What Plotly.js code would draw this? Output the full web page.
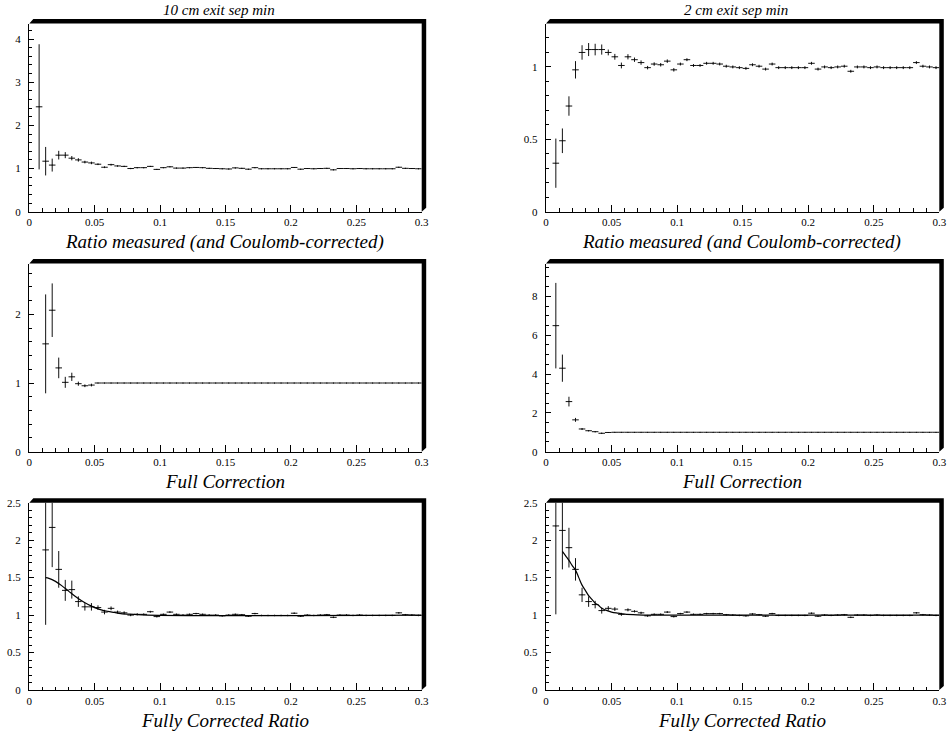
<!DOCTYPE html>
<html>
<head>
<meta charset="utf-8">
<script src="https://cdn.plot.ly/plotly-3.0.1.min.js"></script>
<style>html,body{margin:0;padding:0;background:#fff;}#chart{width:947px;height:734px;}</style>
</head>
<body>
<div id="chart"></div>
<script>
// Bin centres (bin width 0.005 from 0 to 0.3)
const binCenters = [0.0025,0.0075,0.0125,0.0175,0.0225,0.0275,0.0325,0.0375,0.0425,0.0475,
  0.0525,0.0575,0.0625,0.0675,0.0725,0.0775,0.0825,0.0875,0.0925,0.0975,
  0.1025,0.1075,0.1125,0.1175,0.1225,0.1275,0.1325,0.1375,0.1425,0.1475,
  0.1525,0.1575,0.1625,0.1675,0.1725,0.1775,0.1825,0.1875,0.1925,0.1975,
  0.2025,0.2075,0.2125,0.2175,0.2225,0.2275,0.2325,0.2375,0.2425,0.2475,
  0.2525,0.2575,0.2625,0.2675,0.2725,0.2775,0.2825,0.2875,0.2925,0.2975];

// Top left: 10 cm, ratio measured (and Coulomb-corrected)
const ratio10 = [null,2.43,1.17,1.08,1.31,1.31,1.24,1.20,1.15,1.13,
  1.10,1.03,1.09,1.06,1.05,1.00,1.02,1.02,1.05,0.98,
  1.02,1.04,1.01,1.01,1.02,1.025,1.02,1.005,1.0,0.995,
  0.99,1.015,1.005,0.985,1.02,0.995,0.995,0.995,0.995,0.995,
  1.025,0.985,1.0,0.995,1.0,1.005,0.97,1.0,1.0,0.995,
  1.0,0.995,0.995,0.995,0.995,0.995,1.03,1.005,1.0,0.995];
const ratio10Err = [null,1.45,0.33,0.15,0.10,0.07,0.05,0.04,0.03,0.03,
  0.02,0.02,0.02,0.015,0.015,0.015,0.012,0.012,0.012,0.012,
  0.01,0.01,0.01,0.01,0.01,0.01,0.01,0.01,0.01,0.01,
  0.01,0.01,0.01,0.01,0.01,0.01,0.01,0.01,0.01,0.01,
  0.01,0.01,0.01,0.01,0.01,0.01,0.01,0.01,0.01,0.01,
  0.01,0.01,0.01,0.01,0.01,0.01,0.01,0.01,0.01,0.01];

// Top right: 2 cm, ratio measured (and Coulomb-corrected)
const ratio2 = [null,0.335,0.49,0.73,0.98,1.10,1.12,1.12,1.12,1.10,
  1.07,1.01,1.07,1.05,1.03,0.995,1.02,1.015,1.04,0.98,
  1.02,1.05,1.01,1.01,1.025,1.025,1.02,1.005,1.0,0.995,
  0.99,1.015,1.005,0.985,1.02,0.995,0.995,0.995,0.995,0.995,
  1.025,0.985,1.0,0.995,1.0,1.005,0.97,1.0,1.0,0.995,
  1.0,0.995,0.995,0.995,0.995,0.995,1.03,1.005,1.0,0.995];
const ratio2Err = [null,0.17,0.085,0.067,0.06,0.05,0.045,0.04,0.035,0.02,
  0.02,0.02,0.018,0.015,0.015,0.012,0.012,0.012,0.012,0.012,
  0.01,0.01,0.01,0.01,0.01,0.01,0.01,0.01,0.01,0.01,
  0.01,0.01,0.01,0.01,0.01,0.01,0.01,0.01,0.01,0.01,
  0.01,0.01,0.01,0.01,0.01,0.01,0.01,0.01,0.01,0.01,
  0.01,0.01,0.01,0.01,0.01,0.01,0.01,0.01,0.01,0.01];

// Middle left: 10 cm, full correction
const corr10 = [null,null,1.57,2.06,1.22,1.01,1.09,0.99,0.96,0.97,
  1,1,1,1,1,1,1,1,1,1, 1,1,1,1,1,1,1,1,1,1,
  1,1,1,1,1,1,1,1,1,1, 1,1,1,1,1,1,1,1,1,1, 1,1,1,1,1,1,1,1,1,1];
const corr10Err = [null,null,0.72,0.39,0.15,0.08,0.06,0.03,0.02,0.02,
  0.004,0.004,0.004,0.004,0.004,0.004,0.004,0.004,0.004,0.004,
  0.004,0.004,0.004,0.004,0.004,0.004,0.004,0.004,0.004,0.004,
  0.004,0.004,0.004,0.004,0.004,0.004,0.004,0.004,0.004,0.004,
  0.004,0.004,0.004,0.004,0.004,0.004,0.004,0.004,0.004,0.004,
  0.004,0.004,0.004,0.004,0.004,0.004,0.004,0.004,0.004,0.004];

// Middle right: 2 cm, full correction
const corr2 = [null,6.49,4.30,2.58,1.64,1.17,1.08,1.03,0.95,0.99,
  1,1,1,1,1,1,1,1,1,1, 1,1,1,1,1,1,1,1,1,1,
  1,1,1,1,1,1,1,1,1,1, 1,1,1,1,1,1,1,1,1,1, 1,1,1,1,1,1,1,1,1,1];
const corr2Err = [null,2.2,0.7,0.25,0.10,0.05,0.03,0.03,0.03,0.02,
  0.01,0.01,0.01,0.01,0.01,0.01,0.01,0.01,0.01,0.01,
  0.01,0.01,0.01,0.01,0.01,0.01,0.01,0.01,0.01,0.01,
  0.01,0.01,0.01,0.01,0.01,0.01,0.01,0.01,0.01,0.01,
  0.01,0.01,0.01,0.01,0.01,0.01,0.01,0.01,0.01,0.01,
  0.01,0.01,0.01,0.01,0.01,0.01,0.01,0.01,0.01,0.01];

// Bottom left: 10 cm, fully corrected ratio
const full10 = [null,null,1.87,2.17,1.61,1.33,1.34,1.18,1.11,1.11,
  1.10,1.04,1.09,1.04,1.03,1.00,1.01,1.01,1.045,0.98,
  1.01,1.04,1.01,1.0,1.01,1.02,1.01,1.0,1.0,0.99,
  1.0,1.01,1.005,0.985,1.02,0.995,0.995,0.995,0.995,0.995,
  1.025,0.985,1.0,0.995,1.0,1.005,0.97,1.0,1.0,0.995,
  1.0,0.995,0.995,0.995,0.995,0.995,1.03,1.005,1.0,0.995];
const full10Err = [null,null,1.0,0.53,0.245,0.14,0.12,0.07,0.05,0.05,
  0.03,0.03,0.025,0.02,0.02,0.015,0.015,0.012,0.012,0.012,
  0.01,0.01,0.01,0.01,0.01,0.01,0.01,0.01,0.01,0.01,
  0.01,0.01,0.01,0.01,0.01,0.01,0.01,0.01,0.01,0.01,
  0.01,0.01,0.01,0.01,0.01,0.01,0.01,0.01,0.01,0.01,
  0.01,0.01,0.01,0.01,0.01,0.01,0.01,0.01,0.01,0.01];

// Bottom right: 2 cm, fully corrected ratio
const full2 = [null,2.19,2.13,1.90,1.61,1.27,1.18,1.14,1.06,1.09,
  1.08,1.01,1.07,1.05,1.03,0.99,1.01,1.01,1.04,0.98,
  1.02,1.04,1.01,1.01,1.02,1.02,1.02,1.005,1.0,0.995,
  0.99,1.015,1.005,0.985,1.02,0.995,0.995,0.995,0.995,0.995,
  1.025,0.985,1.0,0.995,1.0,1.005,0.97,1.0,1.0,0.995,
  1.0,0.995,0.995,0.995,0.995,0.995,1.03,1.005,1.0,0.995];
const full2Err = [null,1.18,0.52,0.265,0.15,0.095,0.07,0.05,0.04,0.03,
  0.025,0.02,0.02,0.015,0.015,0.012,0.012,0.012,0.012,0.012,
  0.01,0.01,0.01,0.01,0.01,0.01,0.01,0.01,0.01,0.01,
  0.01,0.01,0.01,0.01,0.01,0.01,0.01,0.01,0.01,0.01,
  0.01,0.01,0.01,0.01,0.01,0.01,0.01,0.01,0.01,0.01,
  0.01,0.01,0.01,0.01,0.01,0.01,0.01,0.01,0.01,0.01];

// Fit curves
const fit10X = [0.0125,0.015,0.02,0.025,0.03,0.035,0.04,0.045,0.05,0.055,0.06,0.065,0.07,0.08,0.09,0.3];
const fit10Y = [1.50,1.49,1.45,1.39,1.32,1.25,1.19,1.14,1.10,1.07,1.05,1.035,1.02,1.01,1.0,1.0];
const fit2X = [0.0125,0.015,0.0175,0.02,0.0225,0.025,0.0275,0.03,0.0325,0.035,0.0375,0.04,0.0425,0.045,0.05,0.055,0.06,0.07,0.08,0.3];
const fit2Y = [1.85,1.79,1.73,1.66,1.60,1.50,1.40,1.33,1.26,1.21,1.16,1.13,1.09,1.07,1.04,1.025,1.012,1.003,1.0,1.0];

const topTitles = ["10 cm exit sep min", "2 cm exit sep min"];
const rowLabels = ["Ratio measured (and Coulomb-corrected)", "Full Correction", "Fully Corrected Ratio"];

// ---- layout geometry (pixels) ----
const W = 947, H = 734;
const cols = [[29.3, 421.7], [546, 939.3]];
const rows = [[23.5, 211.7], [263.5, 451.7], [502.7, 690]];
const yRanges = [[0,4.36],[0,1.30],[0,2.74],[0,9.69],[0,2.5],[0,2.5]];
const yDticks = [1,0.5,1,2,0.5,0.5];
const yMinor = [0.2,0.1,0.2,0.5,0.1,0.1];

const panels = [
  {y: ratio10, e: ratio10Err}, {y: ratio2, e: ratio2Err},
  {y: corr10, e: corr10Err}, {y: corr2, e: corr2Err},
  {y: full10, e: full10Err}, {y: full2, e: full2Err}
];

const serifFont = "Liberation Serif";
const data = [];
const layout = {
  width: W, height: H, margin: {l:0, r:0, t:0, b:0},
  paper_bgcolor: "white", plot_bgcolor: "white",
  font: {family: serifFont, color: "black"},
  showlegend: false, shapes: [], annotations: []
};

panels.forEach((p, i) => {
  const r = Math.floor(i/2), c = i % 2, n = i + 1;
  const xs = n === 1 ? "" : String(n);
  data.push({
    type: "scatter", mode: "markers",
    x: binCenters, y: p.y,
    xaxis: "x" + xs, yaxis: "y" + xs,
    marker: {size: 1, color: "black"},
    error_y: {type: "data", array: p.e, visible: true, width: 0, thickness: 1, color: "#111"},
    error_x: {type: "constant", value: 0.0025, visible: true, width: 0, thickness: 1, color: "#111"},
    hoverinfo: "x+y"
  });
  const [x0, x1] = cols[c], [yt, yb] = rows[r];
  layout["xaxis" + xs] = {
    domain: [x0/W, x1/W], range: [0, 0.3], anchor: "y" + xs,
    tick0: 0, dtick: 0.05, ticks: "inside", ticklen: 7, tickwidth: 1, tickcolor: "black",
    minor: {dtick: 0.01, ticks: "inside", ticklen: 3.5, tickwidth: 1, tickcolor: "black"},
    showline: true, linecolor: "black", linewidth: 1.3, mirror: false,
    showgrid: false, zeroline: false,
    tickfont: {family: serifFont, size: 11, color: "black"}
  };
  layout["yaxis" + xs] = {
    domain: [1 - yb/H, 1 - yt/H], range: yRanges[i], anchor: "x" + xs,
    tick0: 0, dtick: yDticks[i], ticks: "inside", ticklen: 5, tickwidth: 1, tickcolor: "black",
    minor: {dtick: yMinor[i], ticks: "inside", ticklen: 3, tickwidth: 1, tickcolor: "black"},
    showline: true, linecolor: "black", linewidth: 1.3, mirror: false,
    showgrid: false, zeroline: false, ticklabelstandoff: 5,
    tickfont: {family: serifFont, size: 11, color: "black"}
  };
  // thick ROOT-style frame shadow on top and right
  const t = 4.5, px = (v) => v/W, py = (v) => 1 - v/H;
  const path = `M ${px(x0)},${py(yt)} L ${px(x0+4)},${py(yt-t)} L ${px(x1+t)},${py(yt-t)} ` +
               `L ${px(x1+t)},${py(yb-4)} L ${px(x1)},${py(yb)} L ${px(x1)},${py(yt)} Z`;
  layout.shapes.push({type: "path", xref: "paper", yref: "paper", path: path,
    fillcolor: "black", line: {width: 0}});
  // row label below each panel
  layout.annotations.push({
    xref: "paper", yref: "paper", x: ((x0 + x1)/2 - 1)/W, y: 1 - (yb + 30)/H,
    xanchor: "center", yanchor: "middle", showarrow: false,
    text: "<i>" + rowLabels[r] + "</i>", font: {family: serifFont, size: 19, color: "black"}
  });
});

// top titles
[0,1].forEach(c => {
  const [x0, x1] = cols[c];
  layout.annotations.push({
    xref: "paper", yref: "paper", x: ((x0 + x1)/2 - 6.5)/W, y: 1 - 10/H,
    xanchor: "center", yanchor: "middle", showarrow: false,
    text: "<i>" + topTitles[c] + "</i>", font: {family: serifFont, size: 15, color: "black"}
  });
});

// fit curves
data.push({type: "scatter", mode: "lines", x: fit10X, y: fit10Y, xaxis: "x5", yaxis: "y5",
  line: {color: "black", width: 1.2, shape: "spline"}, hoverinfo: "skip"});
data.push({type: "scatter", mode: "lines", x: fit2X, y: fit2Y, xaxis: "x6", yaxis: "y6",
  line: {color: "black", width: 1.2, shape: "spline"}, hoverinfo: "skip"});

Plotly.newPlot("chart", data, layout, {staticPlot: true, displayModeBar: false});
</script>
</body>
</html>
